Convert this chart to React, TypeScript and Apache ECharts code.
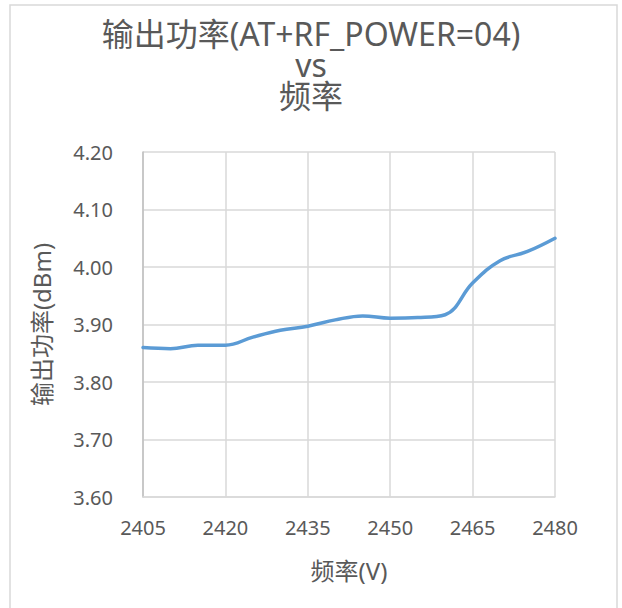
import React, { useEffect, useRef } from "react";
import * as echarts from "echarts";

const frequencies: string[] = [
  "2405", "2410", "2415", "2420", "2425", "2430", "2435", "2440",
  "2445", "2450", "2455", "2460", "2465", "2470", "2475", "2480",
];
const outputPower: number[] = [
  3.86, 3.858, 3.864, 3.864, 3.878, 3.89, 3.897, 3.908,
  3.915, 3.911, 3.912, 3.917, 3.972, 4.011, 4.027, 4.05,
];
const yTicks = { min: 3.6, max: 4.2, interval: 0.1 };

const titleText = "输出功率(AT+RF_POWER=04)\nvs\n频率";
const xName = "频率(V)";
const yName = "输出功率(dBm)";

const FONT = "'Noto Sans', 'Noto Sans CJK SC', sans-serif";
const TEXT_COLOR = "#595959";

export default function App() {
  const ref = useRef<HTMLDivElement>(null);
  useEffect(() => {
    if (!ref.current) return;
    const chart = echarts.init(ref.current, undefined, { renderer: "svg" });
    chart.setOption({
      animation: false,
      backgroundColor: "#ffffff",
      textStyle: { fontFamily: FONT },
      title: {
        text: titleText,
        left: "center",
        top: 13,
        textStyle: {
          fontFamily: FONT,
          fontSize: 32,
          fontWeight: "normal",
          color: TEXT_COLOR,
          lineHeight: 31,
        },
      },
      graphic: [
        {
          type: "rect",
          shape: { x: 10, y: 5, width: 607, height: 612 },
          style: { fill: "none", stroke: "#D9D9D9", lineWidth: 1.5 },
          silent: true,
        },
      ],
      grid: { left: 143, right: 67, top: 152, bottom: 111, containLabel: false },
      xAxis: {
        type: "category",
        data: frequencies,
        boundaryGap: false,
        name: xName,
        nameLocation: "middle",
        nameGap: 61,
        nameTextStyle: { fontFamily: FONT, fontSize: 24, color: TEXT_COLOR },
        axisLine: { show: true, lineStyle: { color: "#D9D9D9", width: 1.5 } },
        axisTick: { show: false },
        axisLabel: {
          interval: 2,
          margin: 20,
          fontFamily: FONT,
          fontSize: 20,
          color: TEXT_COLOR,
        },
        splitLine: {
          show: true,
          interval: 2,
          lineStyle: { color: "#D9D9D9", width: 1.5 },
        },
      },
      yAxis: {
        type: "value",
        min: yTicks.min,
        max: yTicks.max,
        interval: yTicks.interval,
        name: yName,
        nameLocation: "middle",
        nameGap: 90,
        nameTextStyle: { fontFamily: FONT, fontSize: 24, color: TEXT_COLOR },
        axisLine: { show: true, lineStyle: { color: "#BFBFBF", width: 1.5 } },
        axisTick: { show: false },
        axisLabel: {
          margin: 30,
          fontFamily: FONT,
          fontSize: 20,
          color: TEXT_COLOR,
          formatter: (v: number) => v.toFixed(2),
        },
        splitLine: { show: true, lineStyle: { color: "#D9D9D9", width: 1.5 } },
      },
      series: [
        {
          type: "line",
          data: outputPower,
          smooth: 0.4,
          symbol: "none",
          lineStyle: { color: "#5B9BD5", width: 3.5, cap: "round" },
        },
      ],
    });
    return () => chart.dispose();
  }, []);
  return (
    <div
      ref={ref}
      style={{ position: "absolute", left: 0, top: 0, width: 622, height: 608 }}
    />
  );
}
